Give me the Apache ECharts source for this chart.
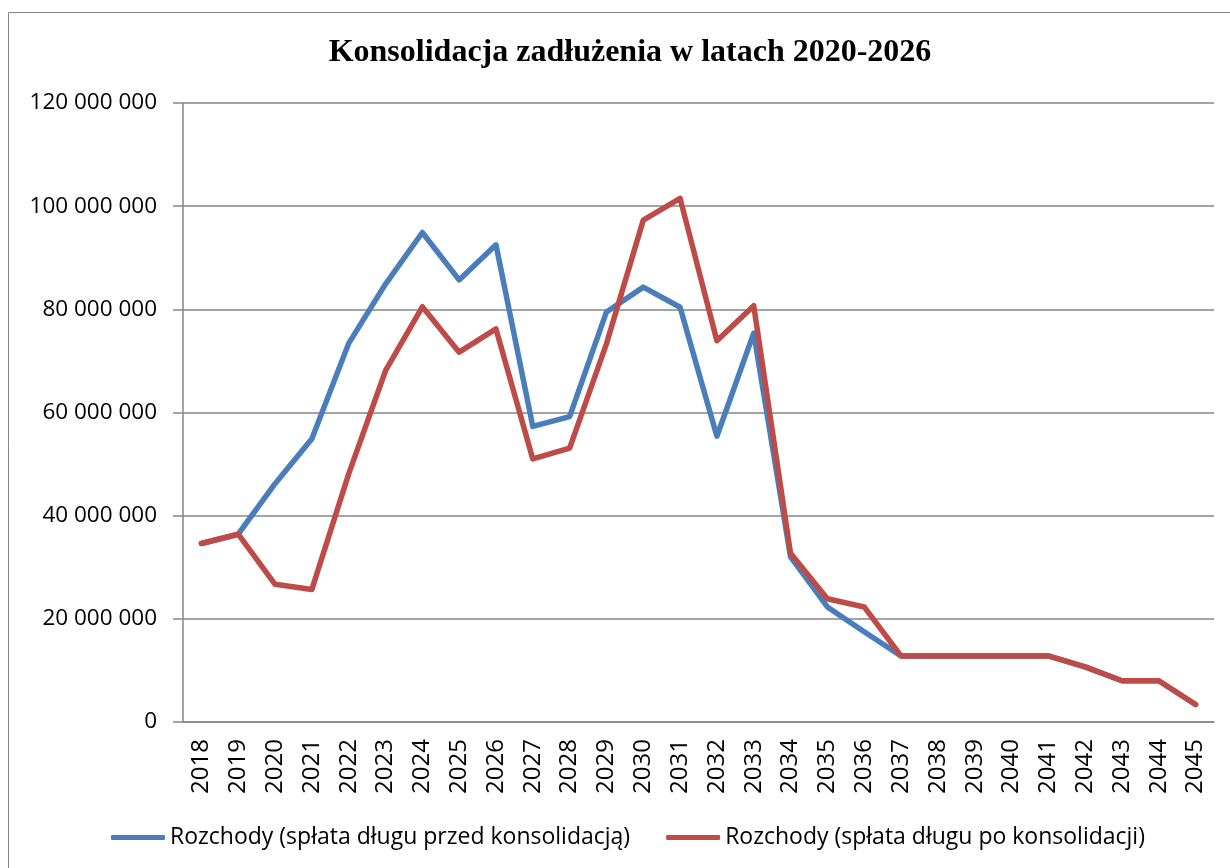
<!DOCTYPE html>
<html>
<head>
<meta charset="utf-8">
<script src="https://cdn.jsdelivr.net/npm/echarts@6/dist/echarts.min.js"></script>
<style>
  html, body { margin: 0; padding: 0; background: #fff; }
  #chart { width: 1230px; height: 868px; }
</style>
</head>
<body>
<div id="chart"></div>
<script>
var years = ['2018','2019','2020','2021','2022','2023','2024','2025','2026','2027','2028','2029','2030','2031',
             '2032','2033','2034','2035','2036','2037','2038','2039','2040','2041','2042','2043','2044','2045'];

// values in PLN
var przed = [34600000, 36400000, 46200000, 54900000, 73400000, 84900000, 94900000, 85700000, 92500000, 57300000,
             59200000, 79500000, 84300000, 80400000, 55400000, 75400000, 32000000, 22300000, 17500000, 12800000,
             12800000, 12800000, 12800000, 12800000, 10700000, 8000000, 8000000, 3400000];
var po = [34600000, 36400000, 26700000, 25700000, 48100000, 68100000, 80500000, 71700000, 76200000, 51000000,
          53100000, 73300000, 97300000, 101500000, 73900000, 80700000, 32700000, 23900000, 22300000, 12800000,
          12800000, 12800000, 12800000, 12800000, 10700000, 8000000, 8000000, 3400000];

var seriesNames = ['Rozchody (spłata długu przed konsolidacją)', 'Rozchody (spłata długu po konsolidacji)'];

function fmt(v) {
    return String(v).replace(/\B(?=(\d{3})+(?!\d))/g, ' ');
}

var chart = echarts.init(document.getElementById('chart'));
var option = {
    backgroundColor: '#fff',
    animation: false,
    title: {
        text: 'Konsolidacja zadłużenia w latach 2020-2026',
        left: 625,
        textAlign: 'center',
        top: 32,
        textStyle: {
            fontFamily: 'Liberation Serif',
            fontWeight: 'bold',
            fontSize: 32,
            color: '#000'
        }
    },
    graphic: [{
        type: 'rect',
        shape: { x: 8.5, y: 12.5, width: 1240, height: 880 },
        style: { fill: 'none', stroke: '#868686', lineWidth: 1 },
        silent: true
    }],
    legend: {
        top: 821,
        left: 106,
        itemGap: 36,
        itemWidth: 54,
        itemHeight: 5,
        icon: 'roundRect',
        textStyle: { fontFamily: 'Open Sans', fontSize: 23, color: '#000' },
        data: seriesNames
    },
    grid: {
        left: 183,
        right: 16,
        top: 103,
        bottom: 146,
        containLabel: false
    },
    xAxis: {
        type: 'category',
        boundaryGap: true,
        data: years,
        axisLine: { lineStyle: { color: '#868686', width: 1.5 } },
        axisTick: { length: 9, lineStyle: { color: '#868686', width: 1.5 } },
        axisLabel: {
            rotate: 90,
            interval: 0,
            margin: 17,
            fontFamily: 'Open Sans',
            fontSize: 24,
            color: '#000'
        }
    },
    yAxis: {
        type: 'value',
        min: 0,
        max: 120000000,
        interval: 20000000,
        axisLine: { show: true, lineStyle: { color: '#868686', width: 1.5 } },
        axisTick: { show: true, length: 10, lineStyle: { color: '#868686', width: 1.5 } },
        splitLine: { lineStyle: { color: '#868686', width: 1.5 } },
        axisLabel: {
            margin: 26,
            fontFamily: 'Open Sans',
            fontSize: 22.5,
            color: '#000',
            formatter: fmt
        }
    },
    series: [
        {
            name: seriesNames[0],
            type: 'line',
            data: przed,
            symbol: 'none',
            color: '#4A7EBB',
            lineStyle: { width: 5.5, color: '#4A7EBB', cap: 'round', join: 'round' }
        },
        {
            name: seriesNames[1],
            type: 'line',
            data: po,
            symbol: 'none',
            color: '#BE4B48',
            lineStyle: { width: 5.5, color: '#BE4B48', cap: 'round', join: 'round' }
        }
    ]
};
chart.setOption(option);
</script>
</body>
</html>
